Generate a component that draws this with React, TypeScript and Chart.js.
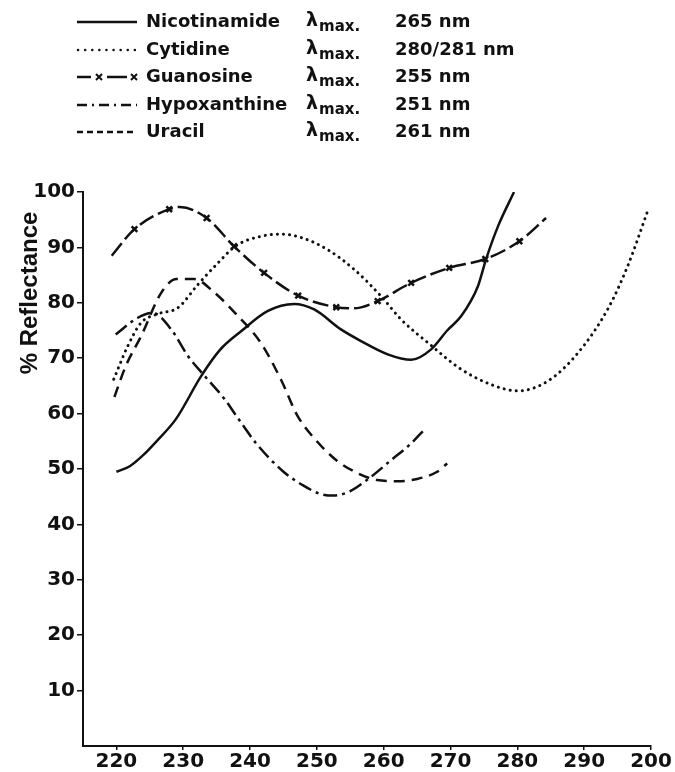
import React, { useEffect, useRef } from "react";
import { Chart, registerables } from "chart.js";

Chart.register(...registerables);

// ---- Data ----
const xTicks = [220, 230, 240, 250, 260, 270, 280, 290, 300];
const xTickLabels = ["220", "230", "240", "250", "260", "270", "280", "290", "200"];
const yTicks = [10, 20, 30, 40, 50, 60, 70, 80, 90, 100];

const legendNames = ["Nicotinamide", "Cytidine", "Guanosine", "Hypoxanthine", "Uracil"];
const lambdaMax = ["265 nm", "280/281 nm", "255 nm", "251 nm", "261 nm"];

const nicotinamideX = [220, 222, 224, 226, 228.9, 232.7, 235.5, 238.7, 242.6, 246.6, 249.6, 253.6, 256.6, 260.6, 264.1, 267.1, 269.5, 271.6, 274.1, 275.3, 277.1, 279.5];
const nicotinamideY = [49.5, 50.5, 52.5, 55, 59, 66.8, 71.5, 74.9, 78.5, 79.8, 78.8, 75.2, 73.1, 70.7, 69.7, 71.6, 75, 77.6, 83, 87.8, 93.8, 100];

const cytidineX = [219.6, 221.7, 223.7, 226.2, 229.2, 232.2, 235.2, 237.9, 241.6, 244.6, 247.6, 251.6, 255.6, 259.6, 262.6, 266.6, 271.6, 276.6, 280.1, 284.6, 289.1, 293.5, 296.5, 299.6];
const cytidineY = [66.2, 72.2, 76.4, 78.0, 79.1, 83.3, 87.2, 90.3, 92.0, 92.4, 91.8, 89.6, 86.0, 81.2, 77.0, 72.8, 68.0, 65.0, 64.1, 65.9, 71.0, 78.8, 86.6, 96.9];

const guanosineX = [219.3, 222.7, 227.9, 229.5, 233.5, 237.6, 242.1, 247.2, 252.9, 255.5, 259.1, 264.1, 269.8, 275.2, 280.3, 284.3];
const guanosineY = [88.5, 93.3, 96.9, 97.3, 95.3, 90.2, 85.4, 81.3, 79.2, 79.0, 80.3, 83.6, 86.3, 87.9, 91.1, 95.3];
const guanosineMarked = [false, true, true, false, true, true, true, true, true, false, true, true, true, true, true, false];

const hypoxanthineX = [219.9, 223.2, 225.4, 228.2, 230.7, 233.2, 236.2, 238, 241, 245, 248, 250.5, 252.5, 255, 258, 261, 264, 266];
const hypoxanthineY = [74.3, 77.3, 78.2, 75.2, 70.4, 66.8, 62.6, 59.5, 54.5, 49.5, 47, 45.5, 45.2, 46, 48.5, 51.5, 54.5, 57];

const uracilX = [219.7, 221.4, 223.7, 226.7, 229, 231.6, 234.7, 238.2, 241.6, 244.6, 247.1, 250, 253, 256, 259, 262, 265, 268, 269.5];
const uracilY = [63.0, 68.6, 74.0, 81.8, 84.3, 84.3, 81.8, 77.6, 72.8, 66.2, 59.6, 55, 51.5, 49.3, 48, 47.8, 48.2, 49.5, 51];

const pts = (xs: number[], ys: number[]) => xs.map((x, i) => ({ x, y: ys[i] }));

// ---- Styles ----
const INK = "#111";
const FONT = '"DejaVu Sans", sans-serif';
const legendRowY = [22, 50, 77, 105, 132];

function drawSample(ctx: CanvasRenderingContext2D, i: number, x0: number, x1: number, y: number) {
  ctx.save();
  ctx.strokeStyle = INK;
  ctx.lineWidth = 2.5;
  const line = (a: number, b: number, dash: number[], cap: CanvasLineCap = "butt") => {
    ctx.beginPath();
    ctx.setLineDash(dash);
    ctx.lineCap = cap;
    ctx.moveTo(a, y);
    ctx.lineTo(b, y);
    ctx.stroke();
  };
  const cross = (cx: number) => {
    ctx.setLineDash([]);
    ctx.lineWidth = 2;
    ctx.beginPath();
    ctx.moveTo(cx - 3, y - 3);
    ctx.lineTo(cx + 3, y + 3);
    ctx.moveTo(cx + 3, y - 3);
    ctx.lineTo(cx - 3, y + 3);
    ctx.stroke();
    ctx.lineWidth = 2.5;
  };
  if (i === 0) line(x0, x1, []);
  else if (i === 1) line(x0 + 1, x1, [0.1, 7], "round");
  else if (i === 2) {
    line(x0, x0 + 14, []);
    cross(x0 + 22);
    line(x0 + 30, x0 + 50, []);
    cross(x1 - 3);
  } else if (i === 3) line(x0, x1, [10, 5, 2, 5]);
  else line(x0, x1, [6, 4]);
  ctx.restore();
}

const overlayPlugin = {
  id: "overlay",
  afterDraw(chart: any) {
    const ctx: CanvasRenderingContext2D = chart.ctx;
    ctx.save();
    ctx.fillStyle = INK;
    ctx.textBaseline = "middle";
    ctx.textAlign = "left";
    legendNames.forEach((name, i) => {
      const y = legendRowY[i];
      drawSample(ctx, i, 77, 137, y);
      ctx.font = `bold 18px ${FONT}`;
      ctx.fillText(name, 146, y);
      ctx.font = `bold 19px ${FONT}`;
      ctx.fillText("λ", 306, y - 1);
      ctx.font = `bold 15px ${FONT}`;
      ctx.fillText("max.", 319, y + 5);
      ctx.font = `bold 18px ${FONT}`;
      ctx.fillText(lambdaMax[i], 395, y);
    });
    // y axis title
    ctx.translate(30, 293);
    ctx.rotate(-Math.PI / 2);
    ctx.textAlign = "center";
    ctx.font = 'bold 24px "Liberation Sans", sans-serif';
    ctx.fillText("% Reflectance", 0, 0);
    ctx.restore();
  },
};

export default function App() {
  const ref = useRef<HTMLCanvasElement | null>(null);
  useEffect(() => {
    document.body.style.margin = "0";
    const canvas = ref.current;
    if (!canvas) return;
    const base = {
      borderColor: INK,
      backgroundColor: INK,
      fill: false,
      pointRadius: 0,
      cubicInterpolationMode: "monotone" as const,
      borderWidth: 2.5,
    };
    const chart = new Chart(canvas, {
      type: "line",
      data: {
        datasets: [
          { ...base, label: legendNames[0], data: pts(nicotinamideX, nicotinamideY) },
          {
            ...base,
            label: legendNames[1],
            data: pts(cytidineX, cytidineY),
            borderDash: [0.1, 6],
            borderCapStyle: "round",
            borderWidth: 3,
          },
          {
            ...base,
            label: legendNames[2],
            data: pts(guanosineX, guanosineY),
            borderDash: [16, 5],
            pointStyle: "crossRot",
            pointRadius: guanosineMarked.map((m) => (m ? 4 : 0)),
            pointBorderWidth: 2.5,
          },
          {
            ...base,
            label: legendNames[3],
            data: pts(hypoxanthineX, hypoxanthineY),
            borderDash: [14, 5, 3, 5],
          },
          {
            ...base,
            label: legendNames[4],
            data: pts(uracilX, uracilY),
            borderDash: [11, 7],
          },
        ],
      },
      options: {
        animation: false,
        responsive: false,
        devicePixelRatio: 1,
        layout: { padding: { left: 0, right: 24, top: 192, bottom: 0 } },
        plugins: { legend: { display: false }, tooltip: { enabled: false } },
        scales: {
          x: {
            type: "linear",
            min: 215,
            max: 300,
            afterBuildTicks: (s: any) => {
              s.ticks = xTicks.map((v) => ({ value: v }));
            },
            afterFit: (s: any) => {
              s.height = 26;
            },
            ticks: {
              color: INK,
              font: { family: FONT, size: 20, weight: "bold" },
              padding: 0,
              maxRotation: 0,
              autoSkip: false,
              callback: (v: any) => {
                const i = xTicks.indexOf(Number(v));
                return i >= 0 ? xTickLabels[i] : "";
              },
            },
            grid: { drawOnChartArea: false, drawTicks: true, tickLength: 4, color: INK, lineWidth: 1.5 },
            border: { display: true, color: INK, width: 2 },
          },
          y: {
            type: "linear",
            min: 0,
            max: 100,
            afterBuildTicks: (s: any) => {
              s.ticks = yTicks.map((v) => ({ value: v }));
            },
            afterFit: (s: any) => {
              s.width = 83;
            },
            ticks: {
              color: INK,
              font: { family: FONT, size: 20, weight: "bold" },
              padding: 2,
              autoSkip: false,
            },
            grid: { drawOnChartArea: false, drawTicks: true, tickLength: 6, color: INK, lineWidth: 1.5 },
            border: { display: true, color: INK, width: 2 },
          },
        },
      },
      plugins: [overlayPlugin],
    });
    return () => chart.destroy();
  }, []);
  return (
    <div style={{ width: 675, height: 772, background: "#fff" }}>
      <canvas ref={ref} width={675} height={772} style={{ display: "block" }} />
    </div>
  );
}
